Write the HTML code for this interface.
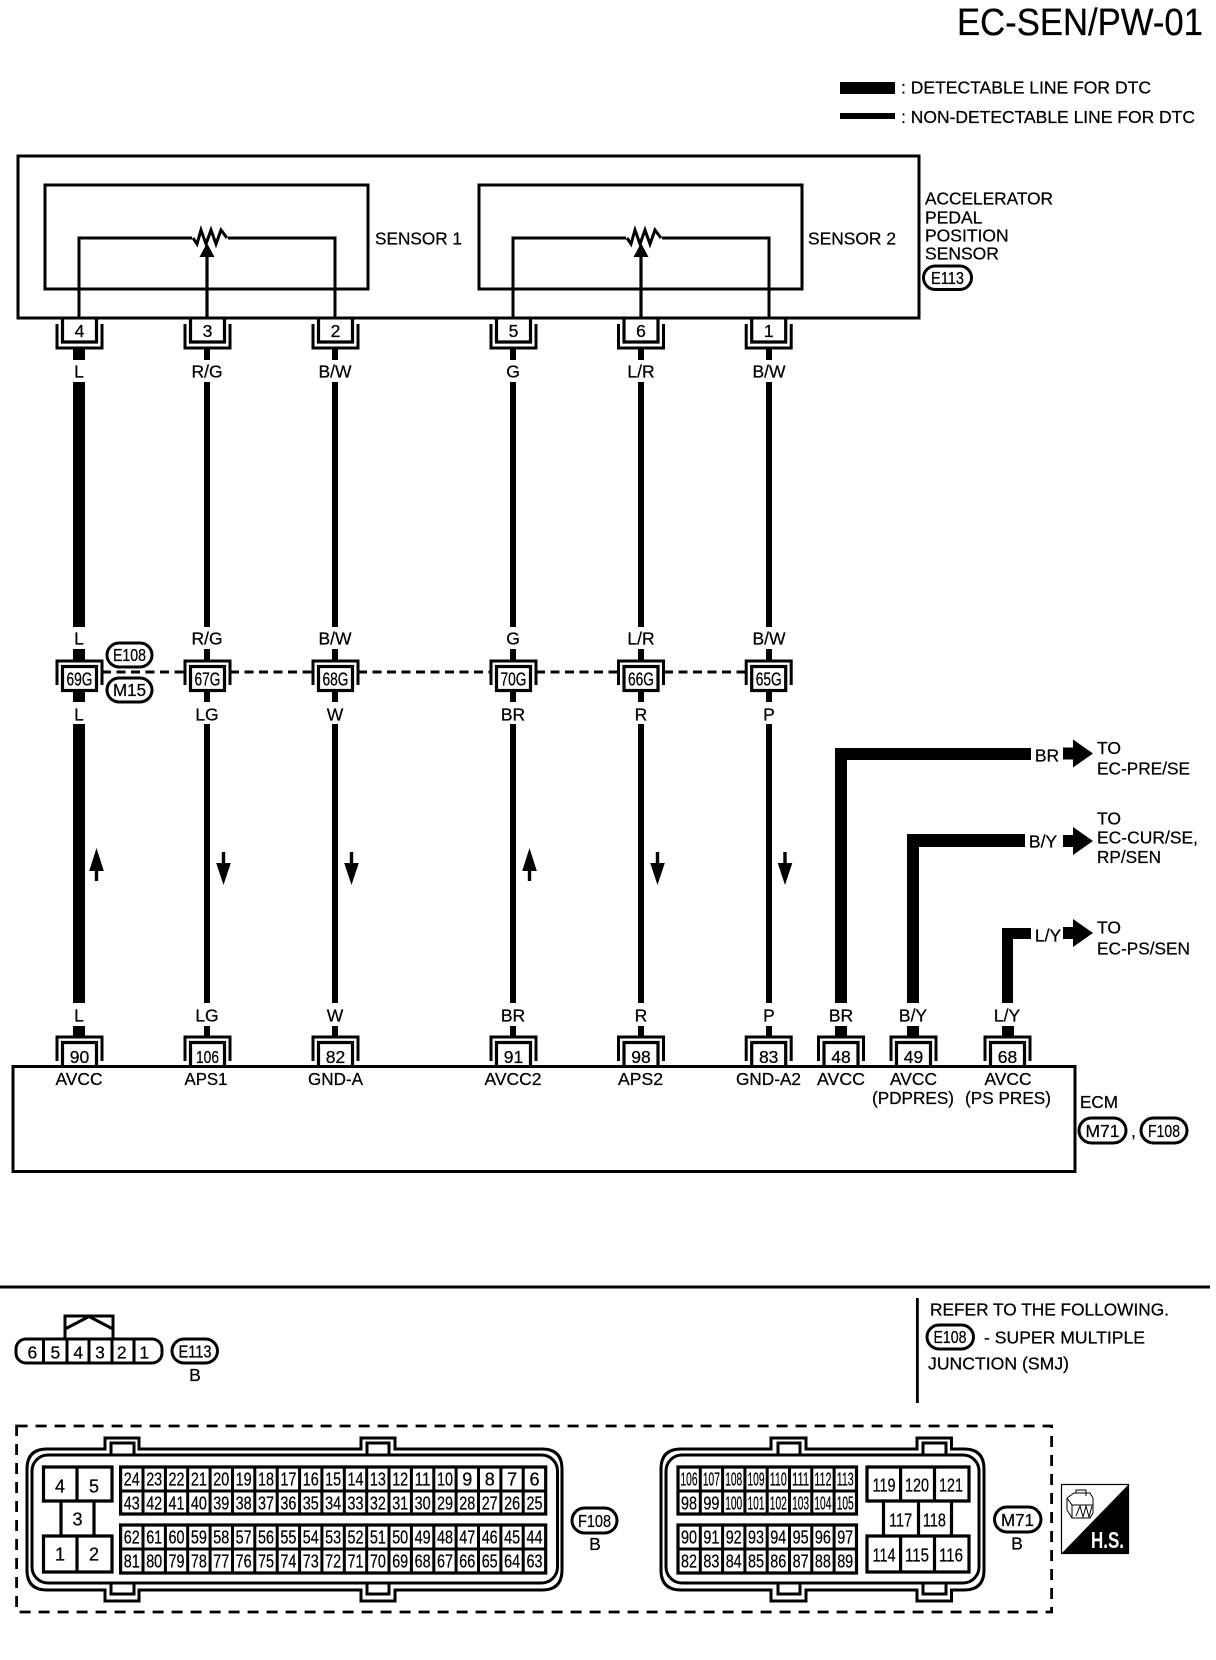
<!DOCTYPE html>
<html lang="en">
<head>
<meta charset="utf-8">
<title>EC-SEN/PW-01</title>
<style>
html,body{margin:0;padding:0;background:#fff;width:1216px;height:1660px;overflow:hidden}
svg{display:block}
text{font-family:"Liberation Sans",sans-serif;font-size:17.5px;fill:#000;stroke:#000;stroke-width:.25}
.m{text-anchor:middle}
.n{font-size:18px;text-anchor:middle}
.ln{fill:none;stroke:#000;stroke-width:3}
.ov{fill:#fff;stroke:#000;stroke-width:3}
.th{fill:none;stroke:#000;stroke-width:3.2}
.dash{fill:none;stroke:#000;stroke-width:3;stroke-dasharray:9 5.5}
.dbox{fill:none;stroke:#000;stroke-width:2.8;stroke-dasharray:11 8}
</style>
</head>
<body>
<svg xmlns="http://www.w3.org/2000/svg" width="1216" height="1660" viewBox="0 0 1216 1660">
<defs>
  <g id="tc"><path class="ln" d="M-22.5 6V30H22.5V6"/><path class="th" d="M-17 0V24H17V0"/></g>
  <g id="mc"><path class="ln" d="M-22.5 24V0H22.5V24"/><rect class="th" x="-17" y="5.5" width="34" height="24" style="fill:#fff"/></g>
  <g id="bc"><path class="ln" d="M-22.5 24V0H22.5V24"/><path class="th" d="M-17 29V5.5H17V29"/></g>
  <g id="sens">
    <rect class="ln" x="45" y="185" width="323" height="104"/>
    <path class="ln" d="M79 318V238H192M228 238H335V318"/>
    <path class="ln" d="M193 238L197 244L201 230L206 244L211 230L216 244L221 230L227 238"/>
    <path class="th" d="M207 318V250"/>
    <path d="M207 243L199.5 257H214.5Z"/>
  </g>
  <g id="up"><path d="M0 0L7.3 23H1.7V33H-1.7V23H-7.3Z"/></g>
  <g id="dn"><path d="M-1.7 0H1.7V11H7.3L0 33L-7.3 11H-1.7Z"/></g>
  <path id="ah" d="M-30 -6H-20V-14L0 0L-20 14V6H-30Z"/>
</defs>

<!-- Title and legend -->
<text x="957" y="35" style="font-size:38px" textLength="246" lengthAdjust="spacingAndGlyphs">EC-SEN/PW-01</text>
<rect x="840" y="82" width="55" height="12"/>
<rect x="840" y="113" width="55" height="6"/>
<text x="901" y="93.5" textLength="250" lengthAdjust="spacingAndGlyphs">: DETECTABLE LINE FOR DTC</text>
<text x="901" y="123" textLength="294" lengthAdjust="spacingAndGlyphs">: NON-DETECTABLE LINE FOR DTC</text>

<!-- Sensor housing -->
<rect class="ln" x="18" y="156" width="901" height="162"/>
<use href="#sens"/>
<use href="#sens" x="434"/>
<text x="375" y="244.5" textLength="87" lengthAdjust="spacingAndGlyphs">SENSOR 1</text>
<text x="808" y="244.5" textLength="88" lengthAdjust="spacingAndGlyphs">SENSOR 2</text>
<text x="925" y="204.5" textLength="128" lengthAdjust="spacingAndGlyphs">ACCELERATOR</text>
<text x="925" y="223.5">PEDAL</text>
<text x="925" y="241.5">POSITION</text>
<text x="925" y="259.5">SENSOR</text>
<rect class="ov" x="923.5" y="266" width="48" height="23.5" rx="11.7"/>
<text class="m" x="947.5" y="284" textLength="33" lengthAdjust="spacingAndGlyphs">E113</text>

<!-- Wires -->
<g fill="#000">
  <rect x="73" y="348" width="12" height="12"/><rect x="73" y="382" width="12" height="245"/><rect x="73" y="649" width="12" height="12"/><rect x="73" y="690" width="12" height="12"/><rect x="73" y="724" width="12" height="279"/><rect x="73" y="1026" width="12" height="11"/>
  <rect x="204" y="348" width="6" height="12"/><rect x="204" y="382" width="6" height="245"/><rect x="204" y="649" width="6" height="12"/><rect x="204" y="690" width="6" height="12"/><rect x="204" y="724" width="6" height="279"/><rect x="204" y="1026" width="6" height="11"/>
  <rect x="332" y="348" width="6" height="12"/><rect x="332" y="382" width="6" height="245"/><rect x="332" y="649" width="6" height="12"/><rect x="332" y="690" width="6" height="12"/><rect x="332" y="724" width="6" height="279"/><rect x="332" y="1026" width="6" height="11"/>
  <rect x="510" y="348" width="6" height="12"/><rect x="510" y="382" width="6" height="245"/><rect x="510" y="649" width="6" height="12"/><rect x="510" y="690" width="6" height="12"/><rect x="510" y="724" width="6" height="279"/><rect x="510" y="1026" width="6" height="11"/>
  <rect x="638" y="348" width="6" height="12"/><rect x="638" y="382" width="6" height="245"/><rect x="638" y="649" width="6" height="12"/><rect x="638" y="690" width="6" height="12"/><rect x="638" y="724" width="6" height="279"/><rect x="638" y="1026" width="6" height="11"/>
  <rect x="766" y="348" width="6" height="12"/><rect x="766" y="382" width="6" height="245"/><rect x="766" y="649" width="6" height="12"/><rect x="766" y="690" width="6" height="12"/><rect x="766" y="724" width="6" height="279"/><rect x="766" y="1026" width="6" height="11"/>
  <path d="M835 1003V748H1031V760H847V1003Z"/>
  <path d="M907 1003V834H1025V847H919V1003Z"/>
  <path d="M1002 1003V928H1031V939H1013V1003Z"/>
  <rect x="835" y="1026" width="12" height="11"/><rect x="907" y="1026" width="12" height="11"/><rect x="1002" y="1026" width="12" height="11"/>
</g>

<!-- Connectors at sensor -->
<use href="#tc" x="79.5" y="318"/><use href="#tc" x="207.5" y="318"/><use href="#tc" x="335.5" y="318"/>
<use href="#tc" x="513.5" y="318"/><use href="#tc" x="641" y="318"/><use href="#tc" x="768.7" y="318"/>
<text class="m" x="79.5" y="337">4</text><text class="m" x="207.5" y="337">3</text><text class="m" x="335.5" y="337">2</text>
<text class="m" x="513.5" y="337">5</text><text class="m" x="641" y="337">6</text><text class="m" x="768.7" y="337">1</text>

<text class="m" x="79" y="377.5">L</text><text class="m" x="207" y="377.5">R/G</text><text class="m" x="335" y="377.5">B/W</text>
<text class="m" x="513" y="377.5">G</text><text class="m" x="641" y="377.5">L/R</text><text class="m" x="769" y="377.5">B/W</text>

<!-- Middle SMJ -->
<text class="m" x="79" y="644.5">L</text><text class="m" x="207" y="644.5">R/G</text><text class="m" x="335" y="644.5">B/W</text>
<text class="m" x="513" y="644.5">G</text><text class="m" x="641" y="644.5">L/R</text><text class="m" x="769" y="644.5">B/W</text>
<path class="dash" d="M102 672H185M230 672H313M358 672H491M536 672H618M664 672H746"/>
<use href="#mc" x="79.5" y="661"/><use href="#mc" x="207.5" y="661"/><use href="#mc" x="335.5" y="661"/>
<use href="#mc" x="513.5" y="661"/><use href="#mc" x="641" y="661"/><use href="#mc" x="768.7" y="661"/>
<text class="n" x="79.5" y="685.5" textLength="26" lengthAdjust="spacingAndGlyphs">69G</text>
<text class="n" x="207.5" y="685.5" textLength="26" lengthAdjust="spacingAndGlyphs">67G</text>
<text class="n" x="335.5" y="685.5" textLength="26" lengthAdjust="spacingAndGlyphs">68G</text>
<text class="n" x="513.5" y="685.5" textLength="26" lengthAdjust="spacingAndGlyphs">70G</text>
<text class="n" x="641" y="685.5" textLength="26" lengthAdjust="spacingAndGlyphs">66G</text>
<text class="n" x="768.7" y="685.5" textLength="26" lengthAdjust="spacingAndGlyphs">65G</text>
<rect class="ov" x="107" y="643" width="45" height="24" rx="12"/>
<text class="m" x="129.5" y="661" textLength="33" lengthAdjust="spacingAndGlyphs">E108</text>
<rect class="ov" x="107" y="678" width="45" height="24" rx="12"/>
<text class="m" x="129.5" y="696" textLength="33" lengthAdjust="spacingAndGlyphs">M15</text>
<text class="m" x="79" y="720.5">L</text><text class="m" x="207" y="720.5">LG</text><text class="m" x="335" y="720.5">W</text>
<text class="m" x="513" y="720.5">BR</text><text class="m" x="641" y="720.5">R</text><text class="m" x="769" y="720.5">P</text>

<!-- Direction arrows -->
<use href="#up" x="96.5" y="848"/><use href="#dn" x="223.5" y="852"/><use href="#dn" x="351.5" y="852"/>
<use href="#up" x="529.5" y="848"/><use href="#dn" x="657.5" y="852"/><use href="#dn" x="785" y="852"/>

<!-- Branches -->
<text class="m" x="1047" y="761.5">BR</text>
<use href="#ah" x="1093" y="753.5"/>
<text x="1097" y="754">TO</text>
<text x="1097" y="774.5" textLength="93" lengthAdjust="spacingAndGlyphs">EC-PRE/SE</text>
<text class="m" x="1043" y="847.5">B/Y</text>
<use href="#ah" x="1093" y="841"/>
<text x="1097" y="824.5">TO</text>
<text x="1097" y="843.5" textLength="101" lengthAdjust="spacingAndGlyphs">EC-CUR/SE,</text>
<text x="1097" y="863" textLength="64" lengthAdjust="spacingAndGlyphs">RP/SEN</text>
<text class="m" x="1048" y="941.5">L/Y</text>
<use href="#ah" x="1093" y="933"/>
<text x="1097" y="933.5">TO</text>
<text x="1097" y="954.5" textLength="93" lengthAdjust="spacingAndGlyphs">EC-PS/SEN</text>

<!-- ECM -->
<text class="m" x="79" y="1021.5">L</text><text class="m" x="207" y="1021.5">LG</text><text class="m" x="335" y="1021.5">W</text>
<text class="m" x="513" y="1021.5">BR</text><text class="m" x="641" y="1021.5">R</text><text class="m" x="769" y="1021.5">P</text>
<text class="m" x="841" y="1021.5">BR</text><text class="m" x="913" y="1021.5">B/Y</text><text class="m" x="1007" y="1021.5">L/Y</text>
<use href="#bc" x="79.5" y="1037"/><use href="#bc" x="207.5" y="1037"/><use href="#bc" x="335.5" y="1037"/>
<use href="#bc" x="513.5" y="1037"/><use href="#bc" x="641" y="1037"/><use href="#bc" x="768.7" y="1037"/>
<use href="#bc" x="841" y="1037"/><use href="#bc" x="913.5" y="1037"/><use href="#bc" x="1007.5" y="1037"/>
<rect class="ln" x="13" y="1066.5" width="1062" height="105"/>
<text class="m" x="79.5" y="1063">90</text><text class="m" x="207.5" y="1063" textLength="23" lengthAdjust="spacingAndGlyphs">106</text><text class="m" x="335.5" y="1063">82</text>
<text class="m" x="513.5" y="1063">91</text><text class="m" x="641" y="1063">98</text><text class="m" x="768.7" y="1063">83</text>
<text class="m" x="841" y="1063">48</text><text class="m" x="913.5" y="1063">49</text><text class="m" x="1007.5" y="1063">68</text>
<text class="m" x="79" y="1085" textLength="47" lengthAdjust="spacingAndGlyphs">AVCC</text>
<text class="m" x="206" y="1085" textLength="43" lengthAdjust="spacingAndGlyphs">APS1</text>
<text class="m" x="335.5" y="1085" textLength="55" lengthAdjust="spacingAndGlyphs">GND-A</text>
<text class="m" x="513" y="1085" textLength="57" lengthAdjust="spacingAndGlyphs">AVCC2</text>
<text class="m" x="640.5" y="1085" textLength="45" lengthAdjust="spacingAndGlyphs">APS2</text>
<text class="m" x="768.5" y="1085" textLength="65" lengthAdjust="spacingAndGlyphs">GND-A2</text>
<text class="m" x="841" y="1085" textLength="48" lengthAdjust="spacingAndGlyphs">AVCC</text>
<text class="m" x="913.5" y="1085" textLength="47" lengthAdjust="spacingAndGlyphs">AVCC</text>
<text class="m" x="1008" y="1085" textLength="47" lengthAdjust="spacingAndGlyphs">AVCC</text>
<text class="m" x="913" y="1104" textLength="82" lengthAdjust="spacingAndGlyphs">(PDPRES)</text>
<text class="m" x="1008" y="1104" textLength="86" lengthAdjust="spacingAndGlyphs">(PS PRES)</text>
<text x="1080" y="1108" textLength="38" lengthAdjust="spacingAndGlyphs">ECM</text>
<rect class="ov" x="1079" y="1118" width="47" height="25" rx="12.5"/>
<text class="m" x="1102.5" y="1137" textLength="34" lengthAdjust="spacingAndGlyphs">M71</text>
<text x="1131" y="1137">,</text>
<rect class="ov" x="1141" y="1118" width="46" height="25" rx="12.5"/>
<text class="m" x="1164" y="1137" textLength="32" lengthAdjust="spacingAndGlyphs">F108</text>

<!-- Separator -->
<rect x="0" y="1285.5" width="1210" height="3"/>
<rect x="916" y="1298" width="2.8" height="105"/>
<text x="930" y="1315.5" textLength="239" lengthAdjust="spacingAndGlyphs">REFER TO THE FOLLOWING.</text>
<rect class="ov" x="927" y="1325" width="46.5" height="24" rx="12"/>
<text class="m" x="950" y="1343" textLength="33" lengthAdjust="spacingAndGlyphs">E108</text>
<text x="984" y="1343.5" textLength="161" lengthAdjust="spacingAndGlyphs">- SUPER MULTIPLE</text>
<text x="928" y="1369.5" textLength="141" lengthAdjust="spacingAndGlyphs">JUNCTION (SMJ)</text>

<!-- E113 connector face -->
<rect class="ln" x="65" y="1316" width="48" height="23"/>
<path class="ln" d="M65 1329L89 1316.5L113 1329"/>
<rect class="ov" x="16" y="1339" width="146" height="24" rx="10"/>
<path class="ln" d="M43.5 1339V1363M67 1339V1363M89 1339V1363M112 1339V1363M134 1339V1363"/>
<text class="m" x="32.4" y="1358.5">6</text><text class="m" x="55.4" y="1358.5">5</text><text class="m" x="78.3" y="1358.5">4</text>
<text class="m" x="100" y="1358.5">3</text><text class="m" x="121.8" y="1358.5">2</text><text class="m" x="144.3" y="1358.5">1</text>
<rect class="ov" x="172" y="1339" width="45.5" height="24" rx="12"/>
<text class="m" x="195" y="1357.5" textLength="33" lengthAdjust="spacingAndGlyphs">E113</text>
<text class="m" x="195" y="1381">B</text>

<!-- Dashed box -->
<rect class="dbox" x="16.6" y="1426" width="1035" height="186"/>

<!-- F108 connector -->
<path class="ln" d="M47 1449H105V1438H139V1449H361V1438H395V1449H542Q562 1449 562 1469V1570Q562 1590 542 1590H395V1601H361V1590H139V1601H105V1590H47Q27 1590 27 1570V1469Q27 1449 47 1449Z"/>
<rect class="ln" x="32" y="1455" width="525.5" height="128" rx="16"/>
<path class="ln" d="M111 1455V1443H134V1455M367 1455V1443H389V1455M111 1583V1594H134V1583M367 1583V1594H389V1583"/>
<path class="th" d="M43.5 1467H112V1501H43.5ZM77 1467V1501M61 1501V1536M94 1501V1536M43.5 1536H112V1572H43.5ZM77 1536V1572"/>
<text class="n" x="60" y="1492.5">4</text><text class="n" x="94" y="1492.5">5</text>
<text class="n" x="77.5" y="1525.5">3</text>
<text class="n" x="60" y="1560.5">1</text><text class="n" x="94" y="1560.5">2</text>
<path class="th" d="M120.6 1467H545.7V1514H120.6ZM120.6 1525H545.7V1573H120.6Z"/>
<path class="ln" d="M120.6 1491H545.7M120.6 1549H545.7M143 1467V1514M165.4 1467V1514M187.7 1467V1514M210.1 1467V1514M232.5 1467V1514M254.8 1467V1514M277.2 1467V1514M299.6 1467V1514M321.9 1467V1514M344.3 1467V1514M366.7 1467V1514M389 1467V1514M411.4 1467V1514M433.8 1467V1514M456.1 1467V1514M478.5 1467V1514M500.9 1467V1514M523.2 1467V1514M143 1525V1573M165.4 1525V1573M187.7 1525V1573M210.1 1525V1573M232.5 1525V1573M254.8 1525V1573M277.2 1525V1573M299.6 1525V1573M321.9 1525V1573M344.3 1525V1573M366.7 1525V1573M389 1525V1573M411.4 1525V1573M433.8 1525V1573M456.1 1525V1573M478.5 1525V1573M500.9 1525V1573M523.2 1525V1573"/>
<g>
<text class="n" x="131.8" y="1485.5" textLength="16" lengthAdjust="spacingAndGlyphs">24</text><text class="n" x="154.2" y="1485.5" textLength="16" lengthAdjust="spacingAndGlyphs">23</text><text class="n" x="176.5" y="1485.5" textLength="16" lengthAdjust="spacingAndGlyphs">22</text><text class="n" x="198.9" y="1485.5" textLength="16" lengthAdjust="spacingAndGlyphs">21</text><text class="n" x="221.3" y="1485.5" textLength="16" lengthAdjust="spacingAndGlyphs">20</text><text class="n" x="243.6" y="1485.5" textLength="16" lengthAdjust="spacingAndGlyphs">19</text><text class="n" x="266" y="1485.5" textLength="16" lengthAdjust="spacingAndGlyphs">18</text><text class="n" x="288.4" y="1485.5" textLength="16" lengthAdjust="spacingAndGlyphs">17</text><text class="n" x="310.8" y="1485.5" textLength="16" lengthAdjust="spacingAndGlyphs">16</text><text class="n" x="333.1" y="1485.5" textLength="16" lengthAdjust="spacingAndGlyphs">15</text><text class="n" x="355.5" y="1485.5" textLength="16" lengthAdjust="spacingAndGlyphs">14</text><text class="n" x="377.9" y="1485.5" textLength="16" lengthAdjust="spacingAndGlyphs">13</text><text class="n" x="400.2" y="1485.5" textLength="16" lengthAdjust="spacingAndGlyphs">12</text><text class="n" x="422.6" y="1485.5" textLength="16" lengthAdjust="spacingAndGlyphs">11</text><text class="n" x="445" y="1485.5" textLength="16" lengthAdjust="spacingAndGlyphs">10</text><text class="n" x="467.3" y="1485.5">9</text><text class="n" x="489.7" y="1485.5">8</text><text class="n" x="512.1" y="1485.5">7</text><text class="n" x="534.5" y="1485.5">6</text>
<text class="n" x="131.8" y="1509.5" textLength="16" lengthAdjust="spacingAndGlyphs">43</text><text class="n" x="154.2" y="1509.5" textLength="16" lengthAdjust="spacingAndGlyphs">42</text><text class="n" x="176.5" y="1509.5" textLength="16" lengthAdjust="spacingAndGlyphs">41</text><text class="n" x="198.9" y="1509.5" textLength="16" lengthAdjust="spacingAndGlyphs">40</text><text class="n" x="221.3" y="1509.5" textLength="16" lengthAdjust="spacingAndGlyphs">39</text><text class="n" x="243.6" y="1509.5" textLength="16" lengthAdjust="spacingAndGlyphs">38</text><text class="n" x="266" y="1509.5" textLength="16" lengthAdjust="spacingAndGlyphs">37</text><text class="n" x="288.4" y="1509.5" textLength="16" lengthAdjust="spacingAndGlyphs">36</text><text class="n" x="310.8" y="1509.5" textLength="16" lengthAdjust="spacingAndGlyphs">35</text><text class="n" x="333.1" y="1509.5" textLength="16" lengthAdjust="spacingAndGlyphs">34</text><text class="n" x="355.5" y="1509.5" textLength="16" lengthAdjust="spacingAndGlyphs">33</text><text class="n" x="377.9" y="1509.5" textLength="16" lengthAdjust="spacingAndGlyphs">32</text><text class="n" x="400.2" y="1509.5" textLength="16" lengthAdjust="spacingAndGlyphs">31</text><text class="n" x="422.6" y="1509.5" textLength="16" lengthAdjust="spacingAndGlyphs">30</text><text class="n" x="445" y="1509.5" textLength="16" lengthAdjust="spacingAndGlyphs">29</text><text class="n" x="467.3" y="1509.5" textLength="16" lengthAdjust="spacingAndGlyphs">28</text><text class="n" x="489.7" y="1509.5" textLength="16" lengthAdjust="spacingAndGlyphs">27</text><text class="n" x="512.1" y="1509.5" textLength="16" lengthAdjust="spacingAndGlyphs">26</text><text class="n" x="534.5" y="1509.5" textLength="16" lengthAdjust="spacingAndGlyphs">25</text>
<text class="n" x="131.8" y="1543.5" textLength="16" lengthAdjust="spacingAndGlyphs">62</text><text class="n" x="154.2" y="1543.5" textLength="16" lengthAdjust="spacingAndGlyphs">61</text><text class="n" x="176.5" y="1543.5" textLength="16" lengthAdjust="spacingAndGlyphs">60</text><text class="n" x="198.9" y="1543.5" textLength="16" lengthAdjust="spacingAndGlyphs">59</text><text class="n" x="221.3" y="1543.5" textLength="16" lengthAdjust="spacingAndGlyphs">58</text><text class="n" x="243.6" y="1543.5" textLength="16" lengthAdjust="spacingAndGlyphs">57</text><text class="n" x="266" y="1543.5" textLength="16" lengthAdjust="spacingAndGlyphs">56</text><text class="n" x="288.4" y="1543.5" textLength="16" lengthAdjust="spacingAndGlyphs">55</text><text class="n" x="310.8" y="1543.5" textLength="16" lengthAdjust="spacingAndGlyphs">54</text><text class="n" x="333.1" y="1543.5" textLength="16" lengthAdjust="spacingAndGlyphs">53</text><text class="n" x="355.5" y="1543.5" textLength="16" lengthAdjust="spacingAndGlyphs">52</text><text class="n" x="377.9" y="1543.5" textLength="16" lengthAdjust="spacingAndGlyphs">51</text><text class="n" x="400.2" y="1543.5" textLength="16" lengthAdjust="spacingAndGlyphs">50</text><text class="n" x="422.6" y="1543.5" textLength="16" lengthAdjust="spacingAndGlyphs">49</text><text class="n" x="445" y="1543.5" textLength="16" lengthAdjust="spacingAndGlyphs">48</text><text class="n" x="467.3" y="1543.5" textLength="16" lengthAdjust="spacingAndGlyphs">47</text><text class="n" x="489.7" y="1543.5" textLength="16" lengthAdjust="spacingAndGlyphs">46</text><text class="n" x="512.1" y="1543.5" textLength="16" lengthAdjust="spacingAndGlyphs">45</text><text class="n" x="534.5" y="1543.5" textLength="16" lengthAdjust="spacingAndGlyphs">44</text>
<text class="n" x="131.8" y="1567.5" textLength="16" lengthAdjust="spacingAndGlyphs">81</text><text class="n" x="154.2" y="1567.5" textLength="16" lengthAdjust="spacingAndGlyphs">80</text><text class="n" x="176.5" y="1567.5" textLength="16" lengthAdjust="spacingAndGlyphs">79</text><text class="n" x="198.9" y="1567.5" textLength="16" lengthAdjust="spacingAndGlyphs">78</text><text class="n" x="221.3" y="1567.5" textLength="16" lengthAdjust="spacingAndGlyphs">77</text><text class="n" x="243.6" y="1567.5" textLength="16" lengthAdjust="spacingAndGlyphs">76</text><text class="n" x="266" y="1567.5" textLength="16" lengthAdjust="spacingAndGlyphs">75</text><text class="n" x="288.4" y="1567.5" textLength="16" lengthAdjust="spacingAndGlyphs">74</text><text class="n" x="310.8" y="1567.5" textLength="16" lengthAdjust="spacingAndGlyphs">73</text><text class="n" x="333.1" y="1567.5" textLength="16" lengthAdjust="spacingAndGlyphs">72</text><text class="n" x="355.5" y="1567.5" textLength="16" lengthAdjust="spacingAndGlyphs">71</text><text class="n" x="377.9" y="1567.5" textLength="16" lengthAdjust="spacingAndGlyphs">70</text><text class="n" x="400.2" y="1567.5" textLength="16" lengthAdjust="spacingAndGlyphs">69</text><text class="n" x="422.6" y="1567.5" textLength="16" lengthAdjust="spacingAndGlyphs">68</text><text class="n" x="445" y="1567.5" textLength="16" lengthAdjust="spacingAndGlyphs">67</text><text class="n" x="467.3" y="1567.5" textLength="16" lengthAdjust="spacingAndGlyphs">66</text><text class="n" x="489.7" y="1567.5" textLength="16" lengthAdjust="spacingAndGlyphs">65</text><text class="n" x="512.1" y="1567.5" textLength="16" lengthAdjust="spacingAndGlyphs">64</text><text class="n" x="534.5" y="1567.5" textLength="16" lengthAdjust="spacingAndGlyphs">63</text>
</g>
<rect class="ov" x="572" y="1508" width="45" height="25" rx="12.5"/>
<text class="m" x="594.5" y="1527" textLength="33" lengthAdjust="spacingAndGlyphs">F108</text>
<text class="m" x="595" y="1550">B</text>

<!-- M71 connector -->
<path class="ln" d="M681 1449H771V1438H806V1449H917V1438H951.5V1449H964Q984 1449 984 1469V1570Q984 1590 964 1590H951.5V1601H917V1590H806V1601H771V1590H681Q661 1590 661 1570V1469Q661 1449 681 1449Z"/>
<rect class="ln" x="666" y="1455" width="313" height="128" rx="16"/>
<path class="ln" d="M778 1455V1443H800V1455M923 1455V1443H946V1455M778 1583V1594H800V1583M923 1583V1594H946V1583"/>
<path class="th" d="M678 1467H856.5V1514H678ZM678 1525H856.5V1573H678Z"/>
<path class="ln" d="M678 1491H856.5M678 1549H856.5M700.3 1467V1514M722.6 1467V1514M744.9 1467V1514M767.2 1467V1514M789.5 1467V1514M811.8 1467V1514M834.1 1467V1514M700.3 1525V1573M722.6 1525V1573M744.9 1525V1573M767.2 1525V1573M789.5 1525V1573M811.8 1525V1573M834.1 1525V1573"/>
<text class="n" x="689" y="1485.5" textLength="17" lengthAdjust="spacingAndGlyphs">106</text><text class="n" x="711.4" y="1485.5" textLength="17" lengthAdjust="spacingAndGlyphs">107</text><text class="n" x="733.7" y="1485.5" textLength="17" lengthAdjust="spacingAndGlyphs">108</text><text class="n" x="756" y="1485.5" textLength="17" lengthAdjust="spacingAndGlyphs">109</text><text class="n" x="778.3" y="1485.5" textLength="17" lengthAdjust="spacingAndGlyphs">110</text><text class="n" x="800.6" y="1485.5" textLength="17" lengthAdjust="spacingAndGlyphs">111</text><text class="n" x="822.9" y="1485.5" textLength="17" lengthAdjust="spacingAndGlyphs">112</text><text class="n" x="845.2" y="1485.5" textLength="17" lengthAdjust="spacingAndGlyphs">113</text>
<text class="n" x="689" y="1509.5" textLength="16" lengthAdjust="spacingAndGlyphs">98</text><text class="n" x="711.4" y="1509.5" textLength="16" lengthAdjust="spacingAndGlyphs">99</text><text class="n" x="733.7" y="1509.5" textLength="17" lengthAdjust="spacingAndGlyphs">100</text><text class="n" x="756" y="1509.5" textLength="17" lengthAdjust="spacingAndGlyphs">101</text><text class="n" x="778.3" y="1509.5" textLength="17" lengthAdjust="spacingAndGlyphs">102</text><text class="n" x="800.6" y="1509.5" textLength="17" lengthAdjust="spacingAndGlyphs">103</text><text class="n" x="822.9" y="1509.5" textLength="17" lengthAdjust="spacingAndGlyphs">104</text><text class="n" x="845.2" y="1509.5" textLength="17" lengthAdjust="spacingAndGlyphs">105</text>
<text class="n" x="689" y="1543.5" textLength="16" lengthAdjust="spacingAndGlyphs">90</text><text class="n" x="711.4" y="1543.5" textLength="16" lengthAdjust="spacingAndGlyphs">91</text><text class="n" x="733.7" y="1543.5" textLength="16" lengthAdjust="spacingAndGlyphs">92</text><text class="n" x="756" y="1543.5" textLength="16" lengthAdjust="spacingAndGlyphs">93</text><text class="n" x="778.3" y="1543.5" textLength="16" lengthAdjust="spacingAndGlyphs">94</text><text class="n" x="800.6" y="1543.5" textLength="16" lengthAdjust="spacingAndGlyphs">95</text><text class="n" x="822.9" y="1543.5" textLength="16" lengthAdjust="spacingAndGlyphs">96</text><text class="n" x="845.2" y="1543.5" textLength="16" lengthAdjust="spacingAndGlyphs">97</text>
<text class="n" x="689" y="1567.5" textLength="16" lengthAdjust="spacingAndGlyphs">82</text><text class="n" x="711.4" y="1567.5" textLength="16" lengthAdjust="spacingAndGlyphs">83</text><text class="n" x="733.7" y="1567.5" textLength="16" lengthAdjust="spacingAndGlyphs">84</text><text class="n" x="756" y="1567.5" textLength="16" lengthAdjust="spacingAndGlyphs">85</text><text class="n" x="778.3" y="1567.5" textLength="16" lengthAdjust="spacingAndGlyphs">86</text><text class="n" x="800.6" y="1567.5" textLength="16" lengthAdjust="spacingAndGlyphs">87</text><text class="n" x="822.9" y="1567.5" textLength="16" lengthAdjust="spacingAndGlyphs">88</text><text class="n" x="845.2" y="1567.5" textLength="16" lengthAdjust="spacingAndGlyphs">89</text>
<path class="th" d="M867 1467H969V1501H867ZM900.6 1467V1501M934.5 1467V1501M883.5 1501V1536M918.5 1501V1536M951.5 1501V1536M867 1536H969V1572H867ZM900.6 1536V1572M934.5 1536V1572"/>
<text class="n" x="884" y="1491.5" textLength="23" lengthAdjust="spacingAndGlyphs">119</text><text class="n" x="917" y="1491.5" textLength="24" lengthAdjust="spacingAndGlyphs">120</text><text class="n" x="951" y="1491.5" textLength="24" lengthAdjust="spacingAndGlyphs">121</text>
<text class="n" x="900.6" y="1526.5" textLength="23" lengthAdjust="spacingAndGlyphs">117</text><text class="n" x="934.4" y="1526.5" textLength="23" lengthAdjust="spacingAndGlyphs">118</text>
<text class="n" x="884" y="1561.5" textLength="23" lengthAdjust="spacingAndGlyphs">114</text><text class="n" x="917" y="1561.5" textLength="24" lengthAdjust="spacingAndGlyphs">115</text><text class="n" x="951" y="1561.5" textLength="24" lengthAdjust="spacingAndGlyphs">116</text>
<rect class="ov" x="994.5" y="1507" width="46.5" height="25" rx="12.5"/>
<text class="m" x="1017.5" y="1526" textLength="33" lengthAdjust="spacingAndGlyphs">M71</text>
<text class="m" x="1017" y="1549.5">B</text>

<!-- Harness icon -->
<rect x="1061.5" y="1484.5" width="67" height="69" fill="#fff" stroke="#000" stroke-width="1.2"/>
<path d="M1129 1484V1554H1061Z"/>
<path fill="none" stroke="#000" stroke-width="1" d="M1067 1498L1074 1493H1090L1093 1498V1513L1090 1518H1072L1067 1510ZM1067 1498L1072 1505H1093M1072 1505V1518M1076 1493V1490H1086V1496M1076 1516L1080 1506L1083 1517L1086 1506L1089 1517L1092 1506"/>
<text class="m" x="1107.5" y="1548" style="font-size:23px;font-weight:bold;fill:#fff;stroke:none" textLength="33" lengthAdjust="spacingAndGlyphs">H.S.</text>
</svg>
</body>
</html>
